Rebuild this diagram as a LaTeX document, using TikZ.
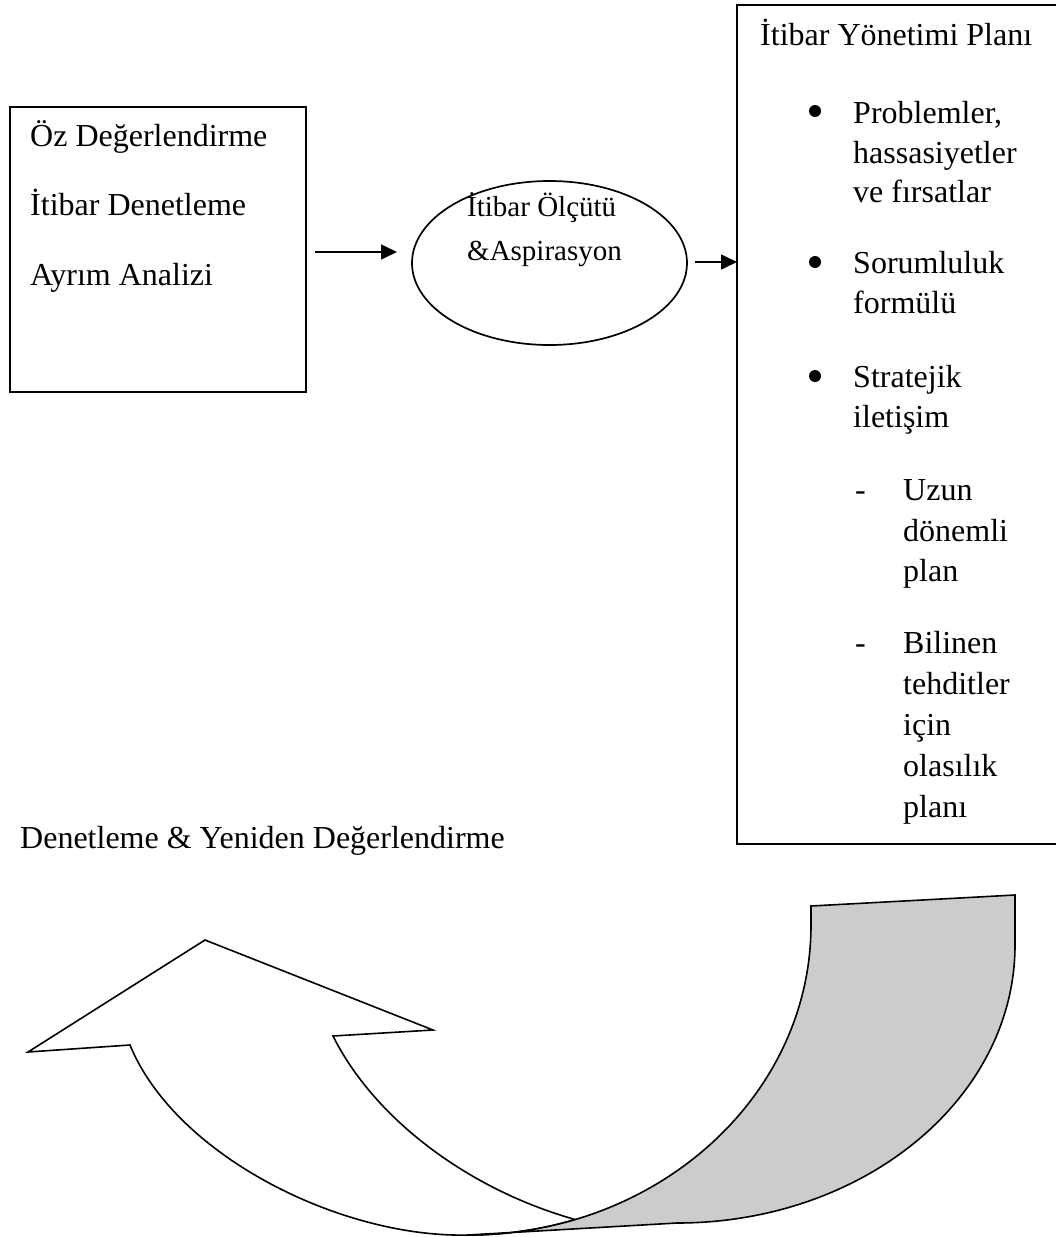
\documentclass[tikz,border=0pt]{standalone}
\usepackage{fontspec}
\setmainfont{Liberation Serif}
\usetikzlibrary{shapes.geometric, arrows.meta}

\begin{document}
\begin{tikzpicture}[x=1pt, y=-1pt,
  box/.style={draw, line width=1.7pt, inner sep=0pt, outer sep=0pt},
  txt/.style={anchor=base west, inner sep=0pt, font=\fontsize{32}{38}\selectfont},
  smalltxt/.style={anchor=base west, inner sep=0pt, font=\fontsize{29}{35}\selectfont},
  dot/.style={circle, fill=black, inner sep=0pt, minimum size=12pt},
  conn/.style={line width=1.6pt, -{Triangle[length=16pt, width=15pt]}},
  body/.style={draw, line width=1.6pt, fill=white, line join=miter},
  tail/.style={draw, line width=1.6pt, fill=black!20, line join=miter}]

\useasboundingbox (0,0) rectangle (1055,1237);
\fill[white] (0,0) rectangle (1055,1237);

% left box
\node[box, minimum width=296pt, minimum height=285pt] (lb) at (158,249.5) {};
\node[txt] (l1) at (30,146) {Öz Değerlendirme};
\node[txt] (l2) at (30,215) {İtibar Denetleme};
\node[txt] (l3) at (30,285) {Ayrım Analizi};

% ellipse
\node[box, ellipse, minimum width=275pt, minimum height=164pt] (el) at (549.5,263) {};
\node[smalltxt] (e1) at (467,216) {İtibar Ölçütü};
\node[smalltxt] (e2) at (467,260) {\&Aspirasyon};

% right box (runs past the right edge)
\node[box, minimum width=330pt, minimum height=839pt] (rb) at (902,424.5) {};
\node[txt] (r0) at (760,45) {İtibar Yönetimi Planı};

\node[dot] (d1) at (815,111) {};
\node[txt] (p1) at (853,123) {Problemler,};
\node[txt] (p2) at (853,163) {hassasiyetler};
\node[txt] (p3) at (853,202) {ve fırsatlar};

\node[dot] (d2) at (815,262) {};
\node[txt] (s1) at (853,273) {Sorumluluk};
\node[txt] (s2) at (853,313) {formülü};

\node[dot] (d3) at (815,376) {};
\node[txt] (t1) at (853,387) {Stratejik};
\node[txt] (t2) at (853,427) {iletişim};

\node[txt] (m1) at (855,500) {-};
\node[txt] (u1) at (903,500) {Uzun};
\node[txt] (u2) at (903,541) {dönemli};
\node[txt] (u3) at (903,581) {plan};

\node[txt] (m2) at (855,653) {-};
\node[txt] (k1) at (903,653) {Bilinen};
\node[txt] (k2) at (903,694) {tehditler};
\node[txt] (k3) at (903,735) {için};
\node[txt] (k4) at (903,776) {olasılık};
\node[txt] (k5) at (903,817) {planı};

% connectors
\draw[conn, shorten <=9pt, shorten >=15pt] ([yshift=-2.5pt]lb.east) -- ([yshift=-2.5pt]lb.east -| el.west);
\draw[conn, shorten <=8pt] ([yshift=1pt]el.east) -- ([yshift=1pt]el.east -| rb.west);

% caption of the loop
\node[txt] (loop) at (20,848) {Denetleme \& Yeniden Değerlendirme};

% curved return arrow
\coordinate (tip) at (205,940);
\coordinate (rbarb) at (433,1030);
\coordinate (rin) at (333,1036);
\coordinate (lin) at (130,1045);
\coordinate (lbarb) at (28,1052);
\coordinate (bl) at (468,1235);
\coordinate (cross) at (575.1,1219.5);

\draw[body] (tip) -- (rbarb) -- (rin)
  .. controls (375,1120) and (470,1190) .. (cross)
  arc[start angle=71.8, end angle=90, x radius=343, y radius=310]
  .. controls (340,1238) and (175,1155) .. (lin)
  -- (lbarb) -- cycle;

\draw[tail] (bl) -- (677,1223)
  arc[start angle=90, end angle=0, x radius=338, y radius=278]
  -- (1015,895) -- (811,906) -- (811,925)
  arc[start angle=0, end angle=90, x radius=343, y radius=310] -- cycle;

\end{tikzpicture}
\end{document}
